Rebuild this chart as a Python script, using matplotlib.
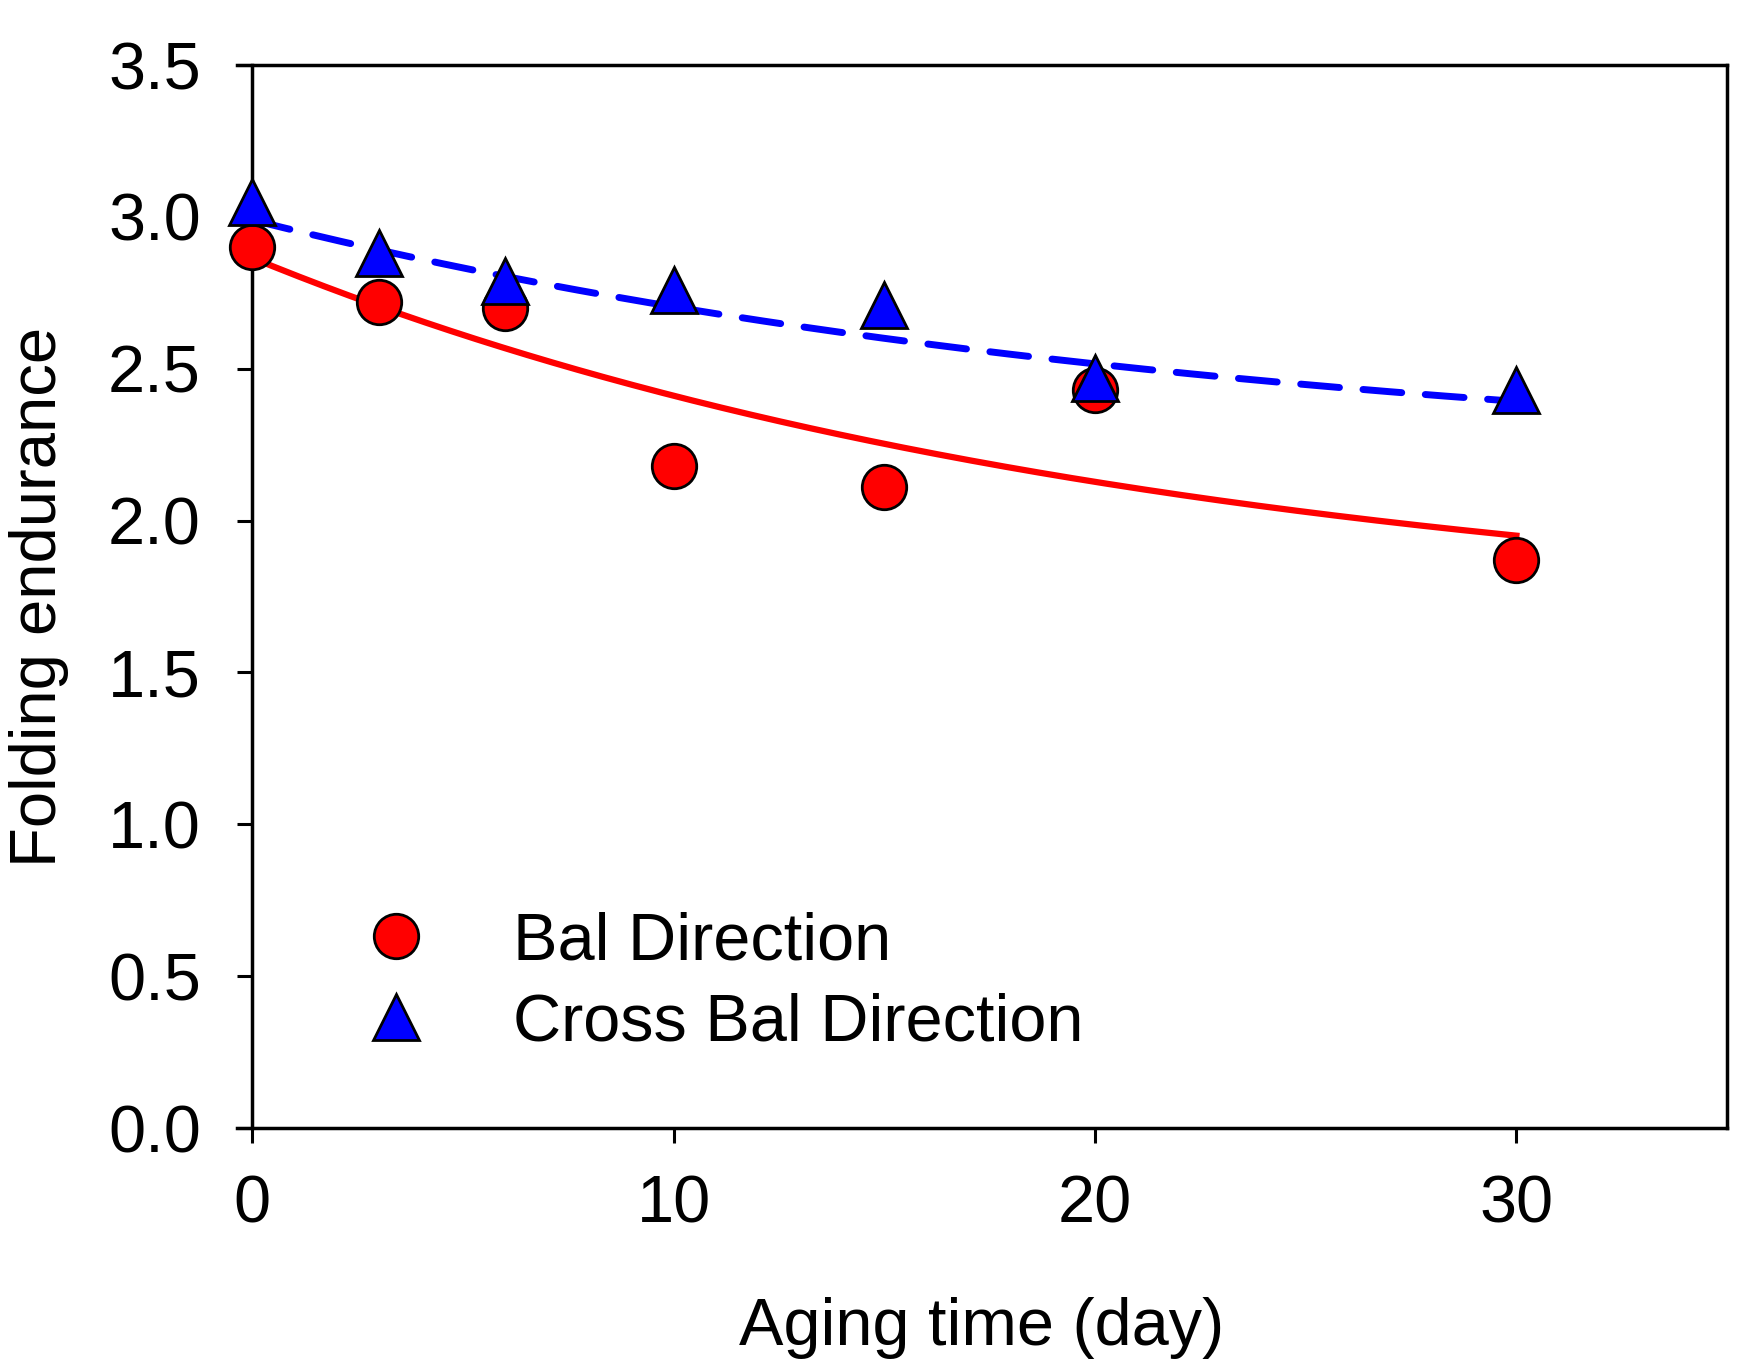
import numpy as np
import matplotlib
matplotlib.use("Agg")
import matplotlib.pyplot as plt
from matplotlib.lines import Line2D

plt.rcParams['font.family'] = ['Liberation Sans', 'DejaVu Sans']

# data
aging_days = [0, 3, 6, 10, 15, 20, 30]
bal_direction = [2.90, 2.72, 2.70, 2.18, 2.11, 2.43, 1.87]
cross_bal_direction = [3.05, 2.88, 2.79, 2.76, 2.71, 2.47, 2.43]
labels = ['Bal Direction', 'Cross Bal Direction']
x_ticks = [0, 10, 20, 30]
y_ticks = [0.0, 0.5, 1.0, 1.5, 2.0, 2.5, 3.0, 3.5]

# exponential decay fits y = y0 + a*exp(-b*x), parameters
bal_fit = (1.655, 1.21, 0.047)
cross_fit = (2.156, 0.834, 0.042)


def decay(x, params):
	y0, a, b = params
	return y0 + a * np.exp(-b * x)


fig = plt.figure(figsize=(17.64, 13.66), dpi=100)
ax = fig.add_axes([0.1344, 0.1742, 0.8447, 0.7782])

xs = np.linspace(0, 30, 300)
ax.plot(xs, decay(xs, bal_fit), color='#ff0000', lw=4.5, zorder=2)
ax.plot(xs, decay(xs, cross_fit), color='#0000ff', lw=5, dashes=(5.6, 3.4),
	dash_capstyle='round', zorder=3)

ax.plot(aging_days, bal_direction, 'o', ms=32, mfc='#ff0000', mec='black', mew=2,
	zorder=4, clip_on=False)
ax.plot(aging_days, cross_bal_direction, '^', ms=33, mfc='#0000ff', mec='black', mew=2,
	zorder=5, clip_on=False)

ax.set_xlim(-0.356, 35)
ax.set_ylim(0, 3.5)

for s in ['top', 'right', 'bottom', 'left']:
	ax.spines[s].set_linewidth(2.5)
ax.spines['left'].set_position(('data', 0))

ax.set_xticks(x_ticks)
ax.set_xticklabels([str(t) for t in x_ticks])
ax.set_yticks(y_ticks)
ax.set_yticklabels([f'{t:.1f}' for t in y_ticks])
ax.tick_params(axis='x', direction='out', length=10.8, width=2.2, pad=23, labelsize=48)
ax.tick_params(axis='y', direction='out', length=10.8, width=2.2, pad=26, labelsize=48)

ax.set_xlabel('Aging time (day)', fontsize=48, va='baseline')
ax.xaxis.set_label_coords(0.5, -0.204)
ax.set_ylabel('Folding endurance', fontsize=47, va='center')
ax.yaxis.set_label_coords(-0.133, 0.5)

handles = [
	Line2D([], [], ls='none', marker='o', ms=32, mfc='#ff0000', mec='black', mew=2),
	Line2D([], [], ls='none', marker='^', ms=33, mfc='#0000ff', mec='black', mew=2),
]
fig.legend(handles, labels, loc='upper left', bbox_to_anchor=(0.2058, 0.3327),
	frameon=False, fontsize=48, handlelength=1.0, handletextpad=1.25,
	labelspacing=0.28, borderpad=0, borderaxespad=0)

plt.savefig('out.png', dpi=100)
